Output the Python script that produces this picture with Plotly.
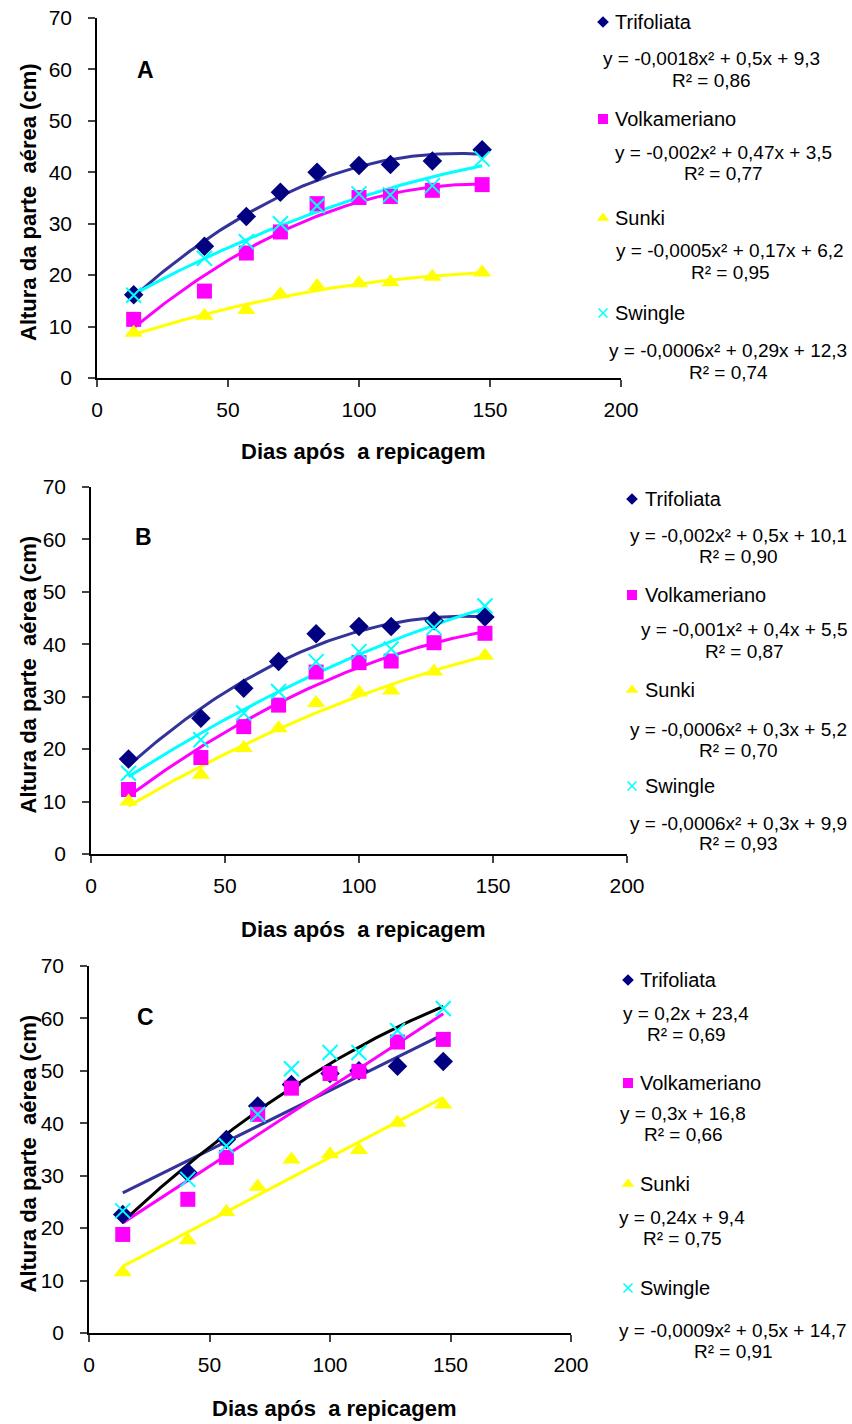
import numpy as np
import plotly.graph_objects as go

# ---------------- data ----------------
days = [14, 41, 57, 70, 84, 100, 112, 128, 147]
series_names = ["Trifoliata", "Volkameriano", "Sunki", "Swingle"]

# Panel A
a_trifoliata = [16.2, 25.6, 31.4, 36.1, 40.0, 41.3, 41.5, 42.2, 44.4]
a_volkameriano = [11.4, 16.9, 24.3, 28.4, 33.9, 35.1, 35.3, 36.5, 37.6]
a_sunki = [8.8, 12.1, 13.2, 16.3, 17.9, 18.4, 18.6, 19.7, 20.5]
a_swingle = [16.1, 23.3, 26.5, 30.0, 33.5, 35.8, 35.6, 37.4, 42.6]

# Panel B
b_trifoliata = [18.1, 25.9, 31.6, 36.7, 42.0, 43.4, 43.4, 44.5, 45.2]
b_volkameriano = [12.3, 18.4, 24.3, 28.4, 34.7, 36.5, 36.8, 40.3, 42.1]
b_sunki = [10.0, 15.1, 20.2, 24.0, 28.8, 30.8, 31.2, 34.8, 37.8]
b_swingle = [15.4, 21.8, 26.9, 31.0, 36.7, 38.6, 39.1, 43.2, 47.3]

# Panel C
c_trifoliata = [22.6, 30.6, 36.9, 43.3, 47.4, 49.5, 50.0, 50.9, 51.8]
c_volkameriano = [18.8, 25.5, 33.5, 41.7, 46.7, 49.5, 49.9, 55.5, 56.0]
c_sunki = [11.6, 17.7, 23.1, 27.9, 33.1, 34.1, 34.9, 40.1, 43.6]
c_swingle = [23.3, 29.3, 35.7, 41.7, 50.4, 53.5, 53.5, 57.7, 61.9]

# trendline degree per panel / series
a_degrees = [2, 2, 2, 2]
b_degrees = [2, 2, 2, 2]
c_degrees = [1, 1, 1, 2]

# equation labels
a_equations = ["y = -0,0018x² + 0,5x + 9,3", "y = -0,002x² + 0,47x + 3,5",
               "y = -0,0005x² + 0,17x + 6,2", "y = -0,0006x² + 0,29x + 12,3"]
a_r2 = ["R² = 0,86", "R² = 0,77", "R² = 0,95", "R² = 0,74"]
b_equations = ["y = -0,002x² + 0,5x + 10,1", "y = -0,001x² + 0,4x + 5,5",
               "y = -0,0006x² + 0,3x + 5,2", "y = -0,0006x² + 0,3x + 9,9"]
b_r2 = ["R² = 0,90", "R² = 0,87", "R² = 0,70", "R² = 0,93"]
c_equations = ["y = 0,2x + 23,4", "y = 0,3x + 16,8", "y = 0,24x + 9,4",
               "y = -0,0009x² + 0,5x + 14,7"]
c_r2 = ["R² = 0,69", "R² = 0,66", "R² = 0,75", "R² = 0,91"]

panel_letters = ["A", "B", "C"]
x_ticks = [0, 50, 100, 150, 200]
y_ticks = [0, 10, 20, 30, 40, 50, 60, 70]

# ---------------- styling ----------------
W, H = 852, 1424
FONT = "Liberation Sans, Arial, sans-serif"
marker_colors = ["#000080", "#FF00FF", "#FFFF00", "#00FFFF"]
line_colors = ["#333399", "#FF00FF", "#FFFF00", "#00FFFF"]
symbols = ["diamond", "square", "triangle-up", "x-thin"]
marker_sizes = [15, 15, 16, 15]
legend_sizes = [9, 10, 11, 9]

# panel geometry in pixels: x0(px at x=0), x200, ytop(70), ybottom(0)
panels = [
    dict(x0=97, x1=621, yt=18, yb=378,
         leg_mx=603, leg_tx=613, leg_y=[22, 119, 218, 313],
         eq_x=[711, 723, 730, 728], eq_y=[58, 152, 250, 350], r2_dy=22,
         label=(145, 70), xt=(363, 452)),
    dict(x0=91, x1=627, yt=487, yb=854,
         leg_mx=632, leg_tx=643, leg_y=[499, 595, 690, 786],
         eq_x=[738, 744, 738, 738], eq_y=[535, 630, 729, 823], r2_dy=21,
         label=(143, 537), xt=(363, 929)),
    dict(x0=89, x1=571, yt=966, yb=1333,
         leg_mx=628, leg_tx=638, leg_y=[980, 1083, 1184, 1288],
         eq_x=[686, 683, 682, 733], eq_y=[1013, 1113, 1217, 1330], r2_dy=21,
         label=(145, 1017), xt=(334, 1408)),
]

panel_data = [
    ([a_trifoliata, a_volkameriano, a_sunki, a_swingle], a_degrees, a_equations, a_r2),
    ([b_trifoliata, b_volkameriano, b_sunki, b_swingle], b_degrees, b_equations, b_r2),
    ([c_trifoliata, c_volkameriano, c_sunki, c_swingle], c_degrees, c_equations, c_r2),
]


def px(x):
    return x / W


def py(y):
    return 1 - y / H


fig = go.Figure()
annotations = []
layout_axes = {}

for p, (geo, (values, degrees, eqs, r2s)) in enumerate(zip(panels, panel_data)):
    idx = "" if p == 0 else str(p + 1)
    xa, ya = "x" + idx, "y" + idx
    layout_axes["xaxis" + idx] = dict(
        domain=[px(geo["x0"]), px(geo["x1"])], range=[0, 200], anchor=ya,
        tickvals=x_ticks, ticks="outside", ticklen=7, tickwidth=1.5,
        showline=True, linecolor="black", linewidth=1.5, showgrid=False,
        zeroline=False, tickfont=dict(family=FONT, size=21, color="black"),
        ticklabelstandoff=5, fixedrange=True, automargin=False)
    layout_axes["yaxis" + idx] = dict(
        domain=[py(geo["yb"]), py(geo["yt"])], range=[0, 70], anchor=xa,
        tickvals=y_ticks, ticks="outside", ticklen=7, tickwidth=1.5,
        showline=True, linecolor="black", linewidth=1.5, showgrid=False,
        zeroline=False, tickfont=dict(family=FONT, size=21, color="black"),
        ticklabelstandoff=12, fixedrange=True, automargin=False)

    for s, yv in enumerate(values):
        coef = np.polyfit(days, yv, degrees[s])
        xs = np.linspace(min(days), max(days), 120)
        lc = "black" if (p == 2 and s == 3) else line_colors[s]
        fig.add_trace(go.Scatter(x=xs, y=np.polyval(coef, xs), mode="lines",
                                 line=dict(color=lc, width=3),
                                 xaxis=xa, yaxis=ya, showlegend=False,
                                 hoverinfo="skip"))
    for s, yv in enumerate(values):
        if symbols[s] == "x-thin":
            mk = dict(symbol="x-thin", size=marker_sizes[s],
                      line=dict(color=marker_colors[s], width=2))
        else:
            mk = dict(symbol=symbols[s], size=marker_sizes[s],
                      color=marker_colors[s], line=dict(width=0))
        fig.add_trace(go.Scatter(x=days, y=yv, mode="markers", marker=mk,
                                 name=series_names[s], xaxis=xa, yaxis=ya,
                                 showlegend=False))

    # legend-like block (markers on overlay axis)
    for s in range(4):
        if symbols[s] == "x-thin":
            mk = dict(symbol="x-thin", size=legend_sizes[s],
                      line=dict(color=marker_colors[s], width=1.5))
        else:
            mk = dict(symbol=symbols[s], size=legend_sizes[s],
                      color=marker_colors[s], line=dict(width=0))
        fig.add_trace(go.Scatter(x=[geo["leg_mx"]], y=[geo["leg_y"][s]],
                                 mode="markers", marker=mk, xaxis="x4",
                                 yaxis="y4", showlegend=False,
                                 hoverinfo="skip"))
        annotations.append(dict(text=series_names[s], x=px(geo["leg_tx"]),
                                y=py(geo["leg_y"][s]), xref="paper",
                                yref="paper", xanchor="left",
                                yanchor="middle", showarrow=False,
                                font=dict(family=FONT, size=20, color="black")))
        annotations.append(dict(text=eqs[s], x=px(geo["eq_x"][s]),
                                y=py(geo["eq_y"][s]), xref="paper",
                                yref="paper", xanchor="center",
                                yanchor="middle", showarrow=False,
                                font=dict(family=FONT, size=19, color="black")))
        annotations.append(dict(text=r2s[s], x=px(geo["eq_x"][s]),
                                y=py(geo["eq_y"][s] + geo["r2_dy"]),
                                xref="paper", yref="paper", xanchor="center",
                                yanchor="middle", showarrow=False,
                                font=dict(family=FONT, size=19, color="black")))

    annotations.append(dict(text="<b>" + panel_letters[p] + "</b>",
                            x=px(geo["label"][0]), y=py(geo["label"][1]),
                            xref="paper", yref="paper", xanchor="center",
                            yanchor="middle", showarrow=False,
                            font=dict(family=FONT, size=23, color="black")))
    annotations.append(dict(text="<b>Dias após  a repicagem</b>",
                            x=px(geo["xt"][0]), y=py(geo["xt"][1]),
                            xref="paper", yref="paper", xanchor="center",
                            yanchor="middle", showarrow=False,
                            font=dict(family=FONT, size=22, color="black")))
    annotations.append(dict(text="<b>Altura da parte  aérea (cm)</b>",
                            x=px(28), y=py((geo["yt"] + geo["yb"]) / 2 + 4),
                            xref="paper", yref="paper", xanchor="center",
                            yanchor="middle", textangle=-90, showarrow=False,
                            font=dict(family=FONT, size=22, color="black")))

layout_axes["xaxis4"] = dict(domain=[0, 1], range=[0, W], visible=False,
                             anchor="y4", fixedrange=True)
layout_axes["yaxis4"] = dict(domain=[0, 1], range=[H, 0], visible=False,
                             anchor="x4", fixedrange=True)

fig.update_layout(width=W, height=H,
                  margin=dict(l=0, r=0, t=0, b=0, pad=0, autoexpand=False),
                  paper_bgcolor="white", plot_bgcolor="rgba(0,0,0,0)",
                  showlegend=False, annotations=annotations,
                  font=dict(family=FONT, color="black"), **layout_axes)

fig.write_html("out.html")
